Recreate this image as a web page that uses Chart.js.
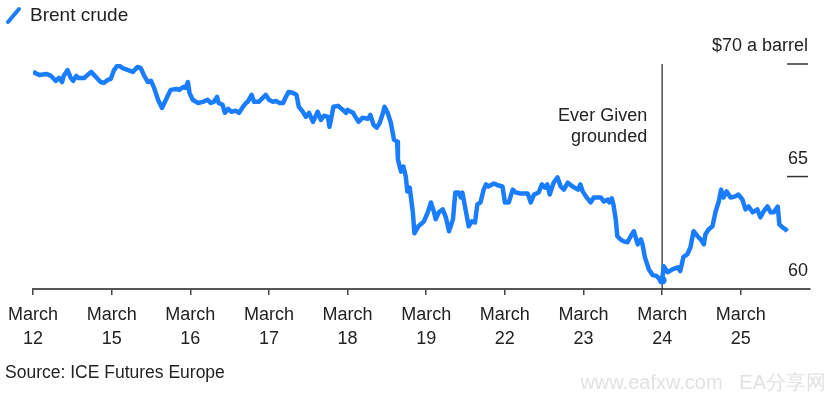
<!DOCTYPE html>
<html>
<head>
<meta charset="utf-8">
<script src="https://cdn.jsdelivr.net/npm/chart.js@4.4.1/dist/chart.umd.min.js"></script>
<style>
  body { margin: 0; background: #fff; }
  #wrap { width: 831px; height: 397px; }
</style>
</head>
<body>
<div id="wrap"><canvas id="grafica" width="831" height="397"></canvas></div>
<script>
// Datos: días de negociación (eje x) y precio del Brent (eje y)
const dayLabels = ['12', '15', '16', '17', '18', '19', '22', '23', '24', '25'];
const dayPos = [0, 0.08, 0.17, 0.23, 0.29, 0.33, 0.37, 0.39, 0.44, 0.48, 0.51, 0.55, 0.58, 0.65, 0.74, 0.80, 0.86, 0.90, 0.95, 0.99,
  1.03, 1.08, 1.14, 1.21, 1.27, 1.33, 1.37, 1.41, 1.46, 1.50, 1.54, 1.59, 1.64, 1.69, 1.72, 1.75, 1.82, 1.86, 1.91, 1.94, 1.97, 1.99,
  2.03, 2.10, 2.16, 2.22, 2.26, 2.30, 2.34, 2.36, 2.41, 2.44, 2.48, 2.52, 2.58, 2.62, 2.67, 2.71, 2.73, 2.78, 2.81, 2.87, 2.96,
  3.00, 3.05, 3.09, 3.13, 3.18, 3.21, 3.25, 3.30, 3.35, 3.38, 3.43, 3.47, 3.51, 3.56, 3.62, 3.66, 3.70, 3.75, 3.77, 3.82, 3.88, 3.94, 3.98,
  4.00, 4.07, 4.10, 4.14, 4.19, 4.26, 4.29, 4.33, 4.37, 4.41, 4.45, 4.47, 4.51, 4.55, 4.59, 4.63, 4.64, 4.68, 4.71, 4.74, 4.76, 4.79, 4.83, 4.85, 4.90, 4.93, 4.97,
  5.02, 5.06, 5.10, 5.12, 5.16, 5.21, 5.25, 5.29, 5.34, 5.37, 5.41, 5.44, 5.46, 5.50, 5.54, 5.58, 5.62, 5.65, 5.69, 5.73, 5.76, 5.79, 5.86, 5.92, 5.97,
  6.00, 6.05, 6.10, 6.14, 6.20, 6.29, 6.33, 6.37, 6.43, 6.47, 6.51, 6.54, 6.57, 6.62, 6.67, 6.71, 6.75, 6.80, 6.86, 6.93, 6.96, 6.99,
  7.03, 7.09, 7.13, 7.22, 7.26, 7.31, 7.33, 7.36, 7.38, 7.41, 7.43, 7.47, 7.51, 7.56, 7.60, 7.64, 7.69, 7.73, 7.75, 7.78, 7.83, 7.88, 7.93, 7.97,
  8.00, 8.02, 8.07, 8.13, 8.20, 8.23, 8.27, 8.32, 8.36, 8.40, 8.45, 8.49, 8.53, 8.55, 8.59, 8.64, 8.68, 8.72, 8.75, 8.78, 8.82, 8.87, 8.93, 8.97,
  9.02, 9.06, 9.10, 9.15, 9.21, 9.25, 9.29, 9.34, 9.38, 9.42, 9.47, 9.49, 9.53, 9.57, 9.59];
const prices = [69.65, 69.51, 69.56, 69.47, 69.25, 69.38, 69.20, 69.47, 69.73, 69.38, 69.25, 69.47, 69.38, 69.38, 69.65, 69.42, 69.20, 69.16, 69.29, 69.34,
  69.73, 69.96, 69.82, 69.73, 69.65, 69.87, 69.82, 69.51, 69.20, 69.25, 68.94, 68.41, 68.05, 68.41, 68.63, 68.85, 68.89, 68.85, 68.98, 68.94, 69.20, 68.72,
  68.41, 68.27, 68.32, 68.41, 68.27, 68.32, 68.54, 68.27, 68.19, 67.83, 68.01, 67.88, 67.92, 67.83, 68.10, 68.27, 68.32, 68.63, 68.32, 68.32, 68.63,
  68.41, 68.32, 68.36, 68.27, 68.27, 68.50, 68.76, 68.72, 68.63, 68.10, 67.88, 67.65, 67.83, 67.43, 67.88, 67.52, 67.70, 67.65, 67.21, 68.10, 68.14, 67.96, 67.83,
  67.96, 67.83, 67.65, 67.43, 67.61, 67.57, 67.74, 67.30, 67.17, 67.39, 67.83, 68.10, 67.83, 67.39, 66.64, 66.55, 65.75, 65.22, 65.44, 65.00, 64.34, 64.51, 63.41, 62.48, 62.79, 62.88, 63.01,
  63.41, 63.85, 63.41, 63.10, 63.41, 63.54, 63.19, 62.57, 63.10, 64.29, 64.29, 64.07, 64.29, 63.54, 62.79, 63.01, 62.96, 63.76, 63.85, 64.42, 64.65, 64.56, 64.69, 64.60, 64.56,
  63.85, 63.85, 64.42, 64.29, 64.25, 64.25, 63.85, 64.20, 64.29, 64.65, 64.51, 64.65, 64.20, 64.73, 64.96, 64.56, 64.42, 64.73, 64.56, 64.42, 64.65, 64.34,
  64.12, 63.85, 64.07, 64.07, 63.89, 63.98, 63.85, 64.03, 63.76, 63.10, 62.35, 62.21, 62.12, 62.08, 62.35, 62.57, 61.99, 62.21, 61.99, 61.42, 60.88, 60.62, 60.58, 60.44,
  60.40, 61.02, 60.75, 60.88, 60.97, 60.80, 61.42, 61.55, 61.86, 62.57, 62.35, 62.21, 61.99, 62.43, 62.65, 62.79, 63.45, 63.89, 64.42, 64.07, 64.34, 64.07, 64.12, 64.20,
  63.98, 63.54, 63.67, 63.41, 63.54, 63.19, 63.45, 63.67, 63.41, 63.41, 63.67, 62.88, 62.74, 62.65, 62.57];
const yTicks = [60, 65, 70];
const yTickText = ['60', '65', '$70 a barrel'];
const eventDay = 8;
const eventText = ['Ever Given', 'grounded'];

const azul = '#1a7dff';
const texto = '#222';
const fuente = '"Liberation Sans", Arial, sans-serif';
const minIdx = prices.indexOf(Math.min(...prices));

// Plugin para leyenda, eje derecho, anotación y fuente
const extras = {
  id: 'extras',
  beforeDatasetsDraw(chart) {
    const { ctx, chartArea, scales } = chart;
    const x = scales.x.getPixelForValue(eventDay);
    ctx.save();
    ctx.strokeStyle = '#222';
    ctx.lineWidth = 1.2;
    ctx.beginPath();
    ctx.moveTo(x, scales.y.getPixelForValue(70));
    ctx.lineTo(x, chartArea.bottom);
    ctx.stroke();
    ctx.restore();
  },
  afterDraw(chart) {
    const { ctx, chartArea, scales } = chart;
    ctx.save();
    // leyenda
    ctx.strokeStyle = azul;
    ctx.lineWidth = 4;
    ctx.lineCap = 'round';
    ctx.beginPath();
    ctx.moveTo(8, 22);
    ctx.lineTo(19, 9);
    ctx.stroke();
    ctx.fillStyle = texto;
    ctx.font = '19px ' + fuente;
    ctx.textBaseline = 'middle';
    ctx.textAlign = 'left';
    ctx.fillText('Brent crude', 30, 16);

    // eje y a la derecha
    ctx.font = '18px ' + fuente;
    ctx.textAlign = 'right';
    ctx.strokeStyle = '#333';
    ctx.lineWidth = 1.5;
    ctx.lineCap = 'butt';
    yTicks.forEach((v, i) => {
      const y = scales.y.getPixelForValue(v);
      if (v !== 60) {
        ctx.beginPath();
        ctx.moveTo(chartArea.right - 23, y);
        ctx.lineTo(chartArea.right - 2, y);
        ctx.stroke();
      }
      ctx.fillText(yTickText[i], chartArea.right - 2, y - 18);
    });

    // anotación
    const ex = scales.x.getPixelForValue(eventDay);
    const ey = scales.y.getPixelForValue(70);
    eventText.forEach((t, i) => ctx.fillText(t, ex - 15, ey + 52 + i * 21));

    // fuente
    ctx.textAlign = 'left';
    ctx.font = '17.5px ' + fuente;
    ctx.fillText('Source: ICE Futures Europe', 5, 373);

    // marca de agua
    ctx.fillStyle = '#e2e2e2';
    ctx.font = '20px ' + fuente;
    ctx.textAlign = 'right';
    ctx.fillText('www.eafxw.com   EA分享网', 826, 383);
    ctx.restore();
  }
};

const grafica = document.getElementById('grafica');
new Chart(grafica, {
  type: 'line',
  data: {
    datasets: [{
      label: 'Brent crude',
      data: dayPos.map((d, i) => ({ x: d, y: prices[i] })),
      borderColor: azul,
      backgroundColor: azul,
      borderWidth: 4.5,
      borderJoinStyle: 'round',
      pointRadius: ctx => ctx.dataIndex === minIdx ? 4.5 : 0,
      pointBorderWidth: 0,
      tension: 0
    }]
  },
  options: {
    responsive: false,
    animation: false,
    layout: { padding: { top: 64, left: 32, right: 21, bottom: 38 } },
    plugins: { legend: { display: false }, tooltip: { enabled: false } },
    scales: {
      x: {
        type: 'linear',
        min: 0,
        max: 9.88,
        afterBuildTicks: s => { s.ticks = dayLabels.map((_, i) => ({ value: i })); },
        ticks: {
          autoSkip: false,
          maxRotation: 0,
          padding: 8,
          color: texto,
          font: { family: fuente, size: 18, lineHeight: 1.33 },
          callback: v => ['March', dayLabels[v]]
        },
        grid: { drawOnChartArea: false, drawTicks: true, tickLength: 6, color: '#444', lineWidth: 1.5 },
        border: { display: true, color: '#555', width: 2 }
      },
      y: {
        display: false,
        min: 60,
        max: 70
      }
    }
  },
  plugins: [extras]
});
</script>
</body>
</html>
